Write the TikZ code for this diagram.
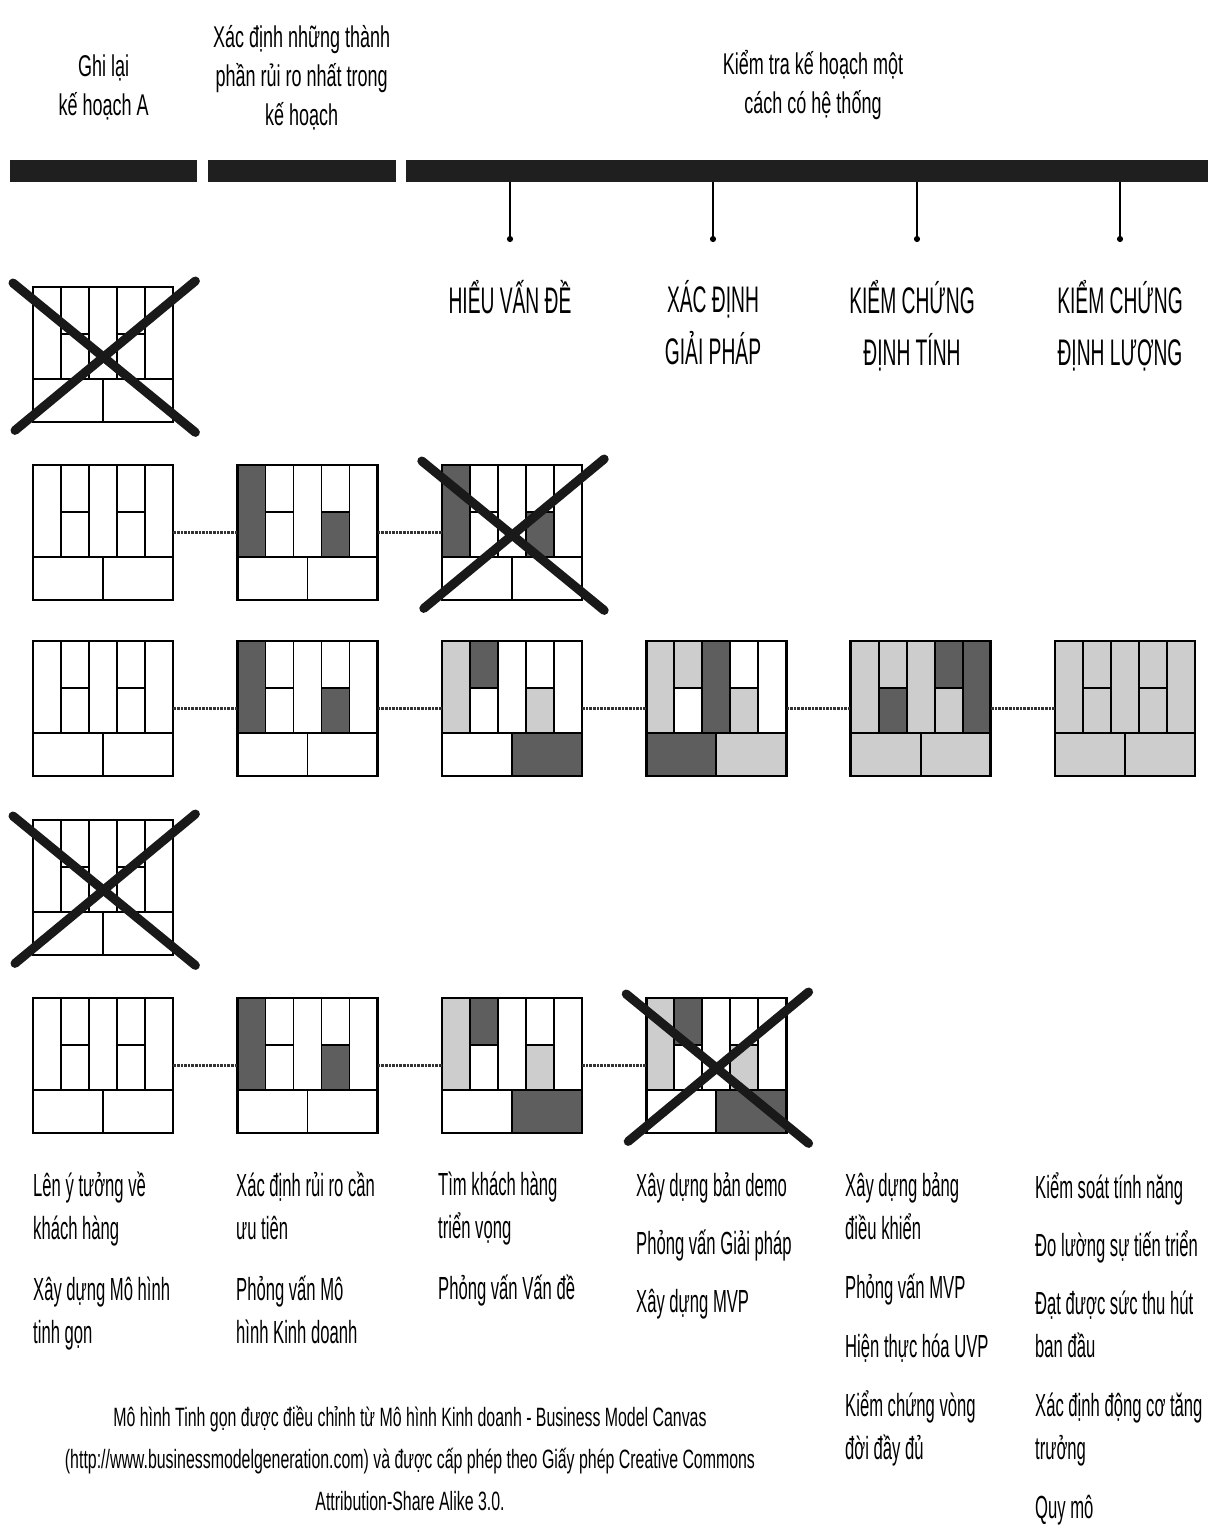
\documentclass[tikz,border=0pt]{standalone}
\usepackage{fontspec}
\setmainfont{Liberation Sans}[FakeStretch=0.55]
\newfontfamily\widefont{Liberation Sans}[FakeStretch=0.6]
\newfontfamily\narrowfont{Liberation Sans}[FakeStretch=0.52]
\usetikzlibrary{arrows.meta, positioning, calc}
\usepackage{xcolor}

\definecolor{dk}{HTML}{5E5E5E}
\definecolor{lt}{HTML}{CDCDCD}

%% Cells of one canvas, measured from its top left corner
\def\cellP{(0,0) rectangle (28,92)}
\def\cellS{(28,0) rectangle (56,47)}
\def\cellK{(28,47) rectangle (56,92)}
\def\cellU{(56,0) rectangle (84,92)}
\def\cellA{(84,0) rectangle (112,47)}
\def\cellC{(84,47) rectangle (112,92)}
\def\cellG{(112,0) rectangle (140,92)}
\def\cellD{(0,92) rectangle (70,135)}
\def\cellR{(70,92) rectangle (140,135)}

\newcommand{\leanfill}[2]{%
  \foreach \cl/\col in {#2}
    \fill[\col, shift={(#1.north west)}] \csname cell\cl\endcsname;}

\newcommand{\leangrid}[1]{%
  \begin{scope}[shift={(#1.north west)}]
    \draw[gridline] (28,0) -- (28,92) (56,0) -- (56,92) (84,0) -- (84,92)
                    (112,0) -- (112,92) (70,92) -- (70,135);
    \draw[divline] (28,47) -- (56,47) (84,47) -- (112,47) (0,92) -- (140,92);
    \draw[frame] (0,0) rectangle (140,135);
  \end{scope}}

\newcommand{\strikeout}[1]{%
  \draw[strike] ($(#1.north west)+(-20,-4)$) -- ($(#1.south east)+(22,10)$);
  \draw[strike] ($(#1.south west)+(-18,8)$) -- ($(#1.north east)+(22,-6)$);}

\begin{document}
\begin{tikzpicture}[
    x=1pt, y=-1pt,
    node distance = 40pt and 64pt,
    canvas/.style   = {rectangle, inner sep=0pt, minimum width=140pt, minimum height=135pt},
    gridline/.style = {line width=1.8pt, black},
    divline/.style  = {line width=2.8pt, black},
    frame/.style    = {line width=2.6pt, black},
    strike/.style   = {line width=9pt, black!90, line cap=round},
    link/.style     = {densely dotted, line width=2.6pt, black!80},
    bar/.style      = {fill=black!88, inner sep=0pt, minimum height=22pt},
    tickline/.style = {line width=2pt, -{Circle[length=6pt]}},
    phase/.style    = {align=center, inner sep=0pt, font=\widefont\fontsize{30}{39}\selectfont},
    stage/.style    = {align=center, inner sep=0pt, font=\narrowfont\fontsize{37}{52}\selectfont},
    note/.style     = {align=left, anchor=north west, inner sep=0pt,
                       font=\narrowfont\fontsize{32}{43}\selectfont},
    foot/.style     = {align=center, inner sep=0pt, font=\widefont\fontsize{26.5}{42}\selectfont},
]

\useasboundingbox (0,0) rectangle (1207,1536);

%% Phase bars
\node[bar, minimum width=187pt, anchor=west] (bar1) at (10,171) {};
\node[bar, minimum width=188pt, right=10pt of bar1] (bar2) {};
\node[bar, minimum width=802pt, right=10pt of bar2] (bar3) {};

%% Phase titles
\node[phase, above=40pt of bar1] (ph1) {Ghi lại\\kế hoạch A};
\node[phase, above=30pt of bar2] (ph2) {Xác định những thành\\phần rủi ro nhất trong\\kế hoạch};
\node[phase, above=40pt of bar3, xshift=6pt] (ph3) {Kiểm tra kế hoạch một\\cách có hệ thống};

%% Stage ticks and labels
\coordinate (t1) at (510,242);
\coordinate (t2) at (713,242);
\coordinate (t3) at (917,242);
\coordinate (t4) at (1120,242);
\draw[tickline] (t1 |- bar3.south) -- (t1);
\draw[tickline] (t2 |- bar3.south) -- (t2);
\draw[tickline] (t3 |- bar3.south) -- (t3);
\draw[tickline] (t4 |- bar3.south) -- (t4);

\node[stage, below=38pt of t1] (s1) {HIỂU VẤN ĐỀ};
\node[stage, below=38pt of t2] (s2) {XÁC ĐỊNH\\GIẢI PHÁP};
\node[stage, below=38pt of t3, xshift=-5pt] (s3) {KIỂM CHỨNG\\ĐỊNH TÍNH};
\node[stage, below=38pt of t4] (s4) {KIỂM CHỨNG\\ĐỊNH LƯỢNG};

%% Canvases
\node[canvas, anchor=north west] (r1c1) at (33,287) {};

\node[canvas, anchor=north west] (r2c1) at (33,465) {};
\node[canvas, right=of r2c1] (r2c2) {};
\node[canvas, right=of r2c2] (r2c3) {};

\node[canvas, anchor=north west] (r3c1) at (33,641) {};
\node[canvas, right=of r3c1] (r3c2) {};
\node[canvas, right=of r3c2] (r3c3) {};
\node[canvas, right=of r3c3] (r3c4) {};
\node[canvas, right=of r3c4] (r3c5) {};
\node[canvas, right=of r3c5] (r3c6) {};

\node[canvas, anchor=north west] (r4c1) at (33,820) {};

\node[canvas, anchor=north west] (r5c1) at (33,998) {};
\node[canvas, right=of r5c1] (r5c2) {};
\node[canvas, right=of r5c2] (r5c3) {};
\node[canvas, right=of r5c3] (r5c4) {};

%% Shaded cells
\leanfill{r2c2}{P/dk, C/dk}
\leanfill{r2c3}{P/dk, C/dk}
\leanfill{r3c2}{P/dk, C/dk}
\leanfill{r3c3}{P/lt, S/dk, C/lt, R/dk}
\leanfill{r3c4}{P/lt, S/lt, U/dk, C/lt, D/dk, R/lt}
\leanfill{r3c5}{P/lt, S/lt, K/dk, U/lt, A/dk, C/lt, G/dk, D/lt, R/lt}
\leanfill{r3c6}{P/lt, S/lt, K/lt, U/lt, A/lt, C/lt, G/lt, D/lt, R/lt}
\leanfill{r5c2}{P/dk, C/dk}
\leanfill{r5c3}{P/lt, S/dk, C/lt, R/dk}
\leanfill{r5c4}{P/lt, S/dk, C/lt, R/dk}

%% Grid lines
\leangrid{r1c1}
\leangrid{r2c1} \leangrid{r2c2} \leangrid{r2c3}
\leangrid{r3c1} \leangrid{r3c2} \leangrid{r3c3}
\leangrid{r3c4} \leangrid{r3c5} \leangrid{r3c6}
\leangrid{r4c1}
\leangrid{r5c1} \leangrid{r5c2} \leangrid{r5c3} \leangrid{r5c4}

%% Dotted links
\draw[link] (r2c1) -- (r2c2);
\draw[link] (r2c2) -- (r2c3);
\draw[link] (r3c1) -- (r3c2);
\draw[link] (r3c2) -- (r3c3);
\draw[link] (r3c3) -- (r3c4);
\draw[link] (r3c4) -- (r3c5);
\draw[link] (r3c5) -- (r3c6);
\draw[link] (r5c1) -- (r5c2);
\draw[link] (r5c2) -- (r5c3);
\draw[link] (r5c3) -- (r5c4);

%% Dropped plans
\strikeout{r1c1}
\strikeout{r2c3}
\strikeout{r4c1}
\strikeout{r5c4}

%% Activities under each stage
\node[note] (n1) at (33,1172) {Lên ý tưởng về\\khách hàng\\[18pt]Xây dựng Mô hình\\tinh gọn};
\node[note] (n2) at (236,1172) {Xác định rủi ro cần\\ưu tiên\\[18pt]Phỏng vấn Mô\\hình Kinh doanh};
\node[note] (n3) at (438,1172) {Tìm khách hàng\\triển vọng\\[18pt]Phỏng vấn Vấn đề};
\node[note] (n4) at (636,1172) {Xây dựng bản demo\\[15pt]Phỏng vấn Giải pháp\\[15pt]Xây dựng MVP};
\node[note] (n5) at (845,1172) {Xây dựng bảng\\điều khiển\\[16pt]Phỏng vấn MVP\\[16pt]Hiện thực hóa UVP\\[16pt]Kiểm chứng vòng\\đời đầy đủ};
\node[note] (n6) at (1035,1172) {Kiểm soát tính năng\\[15pt]Đo lường sự tiến triển\\[15pt]Đạt được sức thu hút\\ban đầu\\[16pt]Xác định động cơ tăng\\trưởng\\[16pt]Quy mô};

%% Source line
\node[foot] (src) at (410,1458) {Mô hình Tinh gọn được điều chỉnh từ Mô hình Kinh doanh - Business Model Canvas\\(http://www.businessmodelgeneration.com) và được cấp phép theo Giấy phép Creative Commons\\Attribution-Share Alike 3.0.};

\end{tikzpicture}
\end{document}
